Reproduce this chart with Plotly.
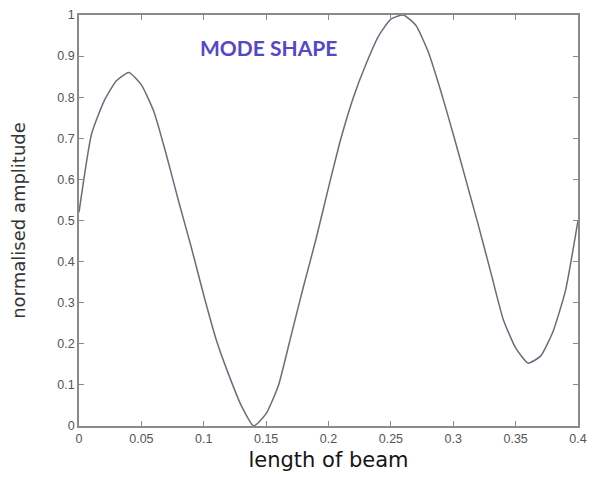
import plotly.graph_objects as go

# Data (length of beam vs normalised amplitude)
beam_length = [0.00, 0.01, 0.02, 0.03, 0.04, 0.05, 0.06, 0.07, 0.08, 0.09,
               0.10, 0.11, 0.12, 0.13, 0.14, 0.15, 0.16, 0.17, 0.18, 0.19,
               0.20, 0.21, 0.22, 0.23, 0.24, 0.25, 0.26, 0.27, 0.28, 0.29,
               0.30, 0.31, 0.32, 0.33, 0.34, 0.35, 0.36, 0.37, 0.38, 0.39, 0.40]
amplitude = [0.52, 0.71, 0.79, 0.84, 0.86, 0.83, 0.765, 0.66, 0.545, 0.435,
             0.318, 0.21, 0.125, 0.05, 0.0, 0.03, 0.10, 0.22, 0.34, 0.455,
             0.58, 0.70, 0.80, 0.88, 0.948, 0.99, 1.0, 0.975, 0.91, 0.815,
             0.71, 0.60, 0.49, 0.375, 0.26, 0.19, 0.153, 0.17, 0.23, 0.33, 0.50]

x_ticks = [0, 0.05, 0.1, 0.15, 0.2, 0.25, 0.3, 0.35, 0.4]
x_tick_labels = ["0", "0.05", "0.1", "0.15", "0.2", "0.25", "0.3", "0.35", "0.4"]
y_ticks = [0, 0.1, 0.2, 0.3, 0.4, 0.5, 0.6, 0.7, 0.8, 0.9, 1]
y_tick_labels = ["0", "0.1", "0.2", "0.3", "0.4", "0.5", "0.6", "0.7", "0.8", "0.9", "1"]

fig = go.Figure()
fig.add_trace(go.Scatter(
    x=beam_length, y=amplitude, mode="lines",
    line=dict(color="#6b6b7e", width=1.5, shape="spline", smoothing=0.5),
    showlegend=False, hoverinfo="skip",
))

axis_common = dict(
    showgrid=False, zeroline=False, showline=True, linecolor="#8a8a8a",
    linewidth=1.5, mirror="ticks", ticks="inside", ticklen=5,
    tickcolor="#8a8a8a", tickwidth=1, automargin=False,
    tickfont=dict(family="Liberation Sans, Arial, sans-serif", size=12.5, color="#555555"),
)

fig.update_xaxes(
    range=[0, 0.4], tickvals=x_ticks, ticktext=x_tick_labels,
    title=dict(text="length of beam",
               font=dict(family="DejaVu Sans, sans-serif", size=21, color="#151515"),
               standoff=8),
    **axis_common,
)
fig.update_yaxes(
    range=[0, 1], tickvals=y_ticks, ticktext=y_tick_labels,
    title=dict(text="normalised amplitude",
               font=dict(family="DejaVu Sans, sans-serif", size=18, color="#333333"),
               standoff=28),
    **axis_common,
)

fig.add_annotation(
    x=0.152, y=0.92, xref="x", yref="y", xanchor="center", yanchor="middle",
    text="<b>MODE SHAPE</b>", showarrow=False,
    font=dict(family="Lato, Open Sans, sans-serif", size=21, color="#5548c8"),
)

# page body has an 8px margin, so the figure is sized to fit the 596x482 window
fig.update_layout(
    width=588, height=474,
    margin=dict(l=71, r=18, t=7, b=56),
    paper_bgcolor="white", plot_bgcolor="white",
)

fig.write_html("out.html")
